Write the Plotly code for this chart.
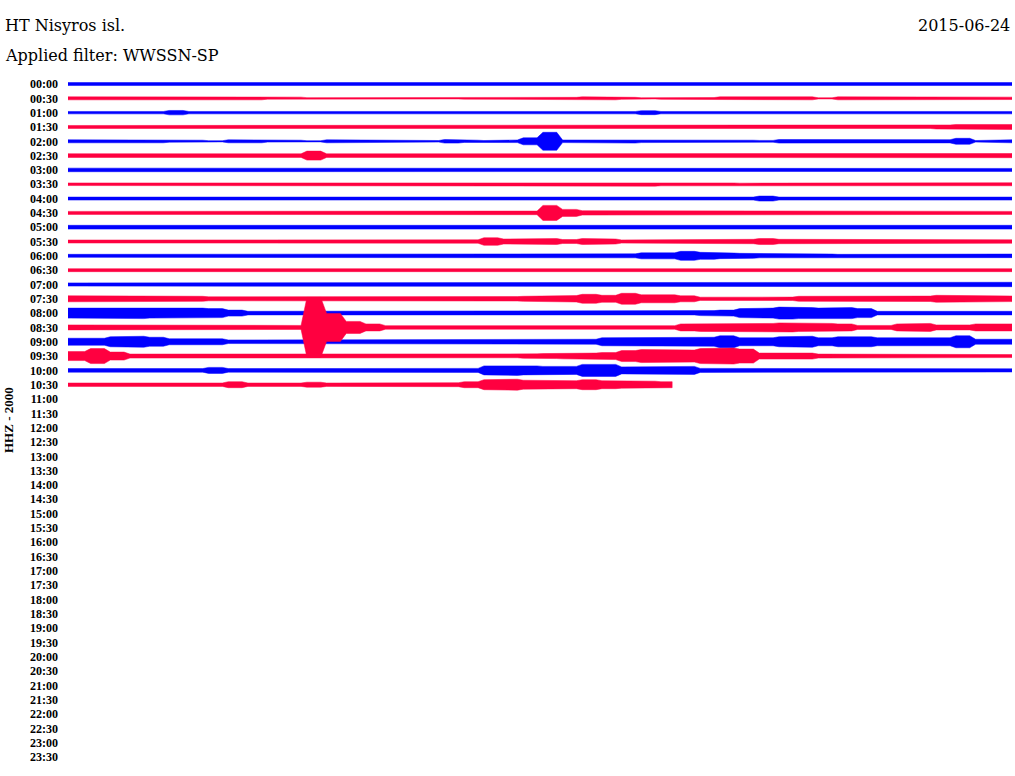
import plotly.graph_objects as go

# ---------------- text ----------------
STATION = "HT Nisyros isl."
FILTER_TEXT = "Applied filter: WWSSN-SP"
DATE_TEXT = "2015-06-24"
CHANNEL_TEXT = "HHZ - 2000"

# ---------------- row labels (30 minutes per row) ----------------
ROW_LABELS = [
    "00:00", "00:30", "01:00", "01:30", "02:00", "02:30", "03:00", "03:30",
    "04:00", "04:30", "05:00", "05:30", "06:00", "06:30", "07:00", "07:30",
    "08:00", "08:30", "09:00", "09:30", "10:00", "10:30", "11:00", "11:30",
    "12:00", "12:30", "13:00", "13:30", "14:00", "14:30", "15:00", "15:30",
    "16:00", "16:30", "17:00", "17:30", "18:00", "18:30", "19:00", "19:30",
    "20:00", "20:30", "21:00", "21:30", "22:00", "22:30", "23:00", "23:30",
]
ROW_MINUTES = 30.0
N_BINS = 48                 # envelope bins per 30-minute row
LAST_ROW_END_MIN = 19.2     # recording stops ~10:49
AMP_PER_ROW = 14.32         # envelope units per row spacing

# ---------------- amplitude envelopes (half peak-to-peak, read per bin) ----------------
ENV_0000 = [1.5, 1.5, 1.5, 1.5, 1.5, 1.5, 1.5, 1.5, 1.5, 1.5, 1.5, 1.5, 1.5, 1.5, 1.5, 1.5,
            1.5, 1.5, 1.5, 1.5, 1.5, 1.5, 1.5, 1.5, 1.5, 1.5, 1.5, 1.5, 1.5, 1.5, 1.5, 1.5,
            1.5, 1.5, 1.5, 1.5, 1.5, 1.5, 1.5, 1.5, 1.5, 1.5, 1.5, 1.5, 1.5, 1.5, 1.5, 1.5]
ENV_0030 = [1.5, 1.2, 1.2, 1.2, 1.2, 1.5, 1.2, 1.2, 1.5, 1.5, 0.8, 1.2, 0.7, 1.0, 0.8, 0.8,
            0.8, 1.0, 0.8, 0.6, 0.8, 1.0, 1.0, 1.2, 1.2, 1.0, 1.5, 1.5, 1.0, 0.6, 1.0, 0.8,
            0.8, 1.5, 0.8, 1.0, 0.8, 1.5, 0.6, 1.5, 0.8, 1.2, 1.5, 1.5, 1.5, 1.5, 1.2, 1.2]
ENV_0100 = [1.2, 1.8, 1.2, 1.5, 1.2, 2.2, 1.2, 1.5, 1.2, 1.2, 1.2, 1.2, 1.2, 1.2, 1.2, 1.2,
            1.2, 1.2, 1.2, 1.2, 1.2, 1.2, 1.2, 1.2, 1.2, 1.2, 1.2, 1.2, 1.2, 2.0, 1.2, 1.2,
            1.2, 1.2, 1.2, 1.8, 1.2, 1.2, 1.2, 1.2, 1.2, 1.2, 1.2, 1.2, 1.2, 1.2, 1.2, 1.2]
ENV_0130 = [1.5, 1.5, 1.5, 1.5, 1.5, 1.5, 1.5, 1.5, 1.5, 1.5, 1.5, 1.5, 1.5, 1.5, 1.5, 1.5,
            1.5, 1.5, 1.5, 1.5, 1.5, 1.5, 1.5, 1.5, 1.5, 1.5, 1.5, 1.8, 1.5, 1.8, 1.5, 1.5,
            1.5, 1.5, 1.5, 1.5, 1.5, 1.5, 1.5, 1.5, 1.5, 1.5, 1.5, 1.5, 2.0, 2.5, 2.0, 2.5]
ENV_0200 = [1.5, 1.1, 1.3, 1.5, 1.5, 0.9, 1.1, 0.6, 1.5, 1.5, 0.8, 1.1, 0.6, 1.5, 1.5, 1.5,
            1.3, 1.3, 0.8, 1.8, 1.1, 0.8, 1.3, 3.5, 9.0, 1.3, 1.3, 1.1, 1.8, 1.3, 1.1, 1.1,
            1.5, 1.5, 1.1, 0.9, 1.8, 1.1, 1.5, 1.6, 1.1, 1.1, 1.6, 1.8, 1.6, 3.0, 0.8, 1.5]
ENV_0230 = [1.9, 1.8, 1.8, 1.9, 2.1, 1.8, 1.8, 1.8, 1.8, 1.9, 1.9, 1.8, 4.5, 1.8, 1.7, 2.1,
            1.5, 1.5, 1.5, 1.5, 1.5, 1.5, 1.5, 1.5, 1.8, 1.5, 1.5, 1.5, 1.5, 1.5, 1.5, 1.5,
            1.5, 1.5, 1.5, 1.5, 1.5, 1.5, 1.5, 1.5, 1.5, 1.5, 1.5, 1.5, 1.5, 1.5, 1.5, 2.1]
ENV_0300 = [1.8, 1.8, 1.5, 1.5, 1.5, 1.5, 1.5, 1.5, 1.5, 1.8, 1.5, 1.5, 1.5, 1.5, 1.8, 1.5,
            1.5, 1.5, 1.5, 1.5, 1.5, 1.8, 1.5, 1.5, 1.5, 1.8, 1.5, 1.5, 1.5, 1.5, 1.5, 1.5,
            1.5, 1.5, 1.5, 1.5, 1.5, 1.5, 1.5, 1.5, 1.5, 1.5, 1.5, 1.5, 1.8, 1.5, 1.5, 1.5]
ENV_0330 = [1.3, 1.2, 1.3, 1.2, 1.3, 1.2, 1.3, 1.2, 1.3, 1.2, 1.3, 1.2, 1.3, 1.3, 1.2, 1.2,
            1.2, 1.2, 1.2, 1.2, 1.2, 1.2, 1.5, 1.5, 1.5, 1.5, 1.6, 1.6, 1.6, 1.9, 1.6, 1.6,
            1.3, 1.3, 1.1, 1.1, 1.1, 1.1, 1.1, 1.1, 1.5, 1.6, 1.6, 1.6, 1.6, 1.6, 1.3, 1.5]
ENV_0400 = [1.5, 1.5, 1.8, 1.8, 1.5, 1.5, 1.5, 1.5, 1.5, 1.5, 1.5, 1.5, 1.5, 1.5, 1.8, 1.5,
            1.5, 1.8, 1.5, 2.2, 1.8, 1.5, 1.5, 1.5, 1.5, 1.5, 1.5, 1.5, 1.5, 1.5, 1.5, 1.5,
            1.5, 1.5, 1.5, 2.5, 1.5, 1.5, 1.5, 1.8, 1.5, 1.5, 1.5, 1.5, 1.5, 1.5, 1.5, 1.5]
ENV_0430 = [1.5, 1.8, 1.8, 1.5, 1.5, 1.5, 1.8, 2.2, 1.5, 1.5, 1.5, 1.5, 1.5, 1.5, 1.5, 1.5,
            1.5, 1.5, 1.5, 1.5, 1.5, 1.5, 1.8, 1.8, 7.5, 3.5, 2.2, 1.5, 1.5, 1.8, 1.8, 1.5,
            1.5, 2.0, 1.5, 1.5, 1.5, 1.5, 1.5, 1.5, 1.5, 1.5, 1.5, 1.5, 1.5, 1.5, 1.5, 1.5]
ENV_0500 = [1.9, 1.8, 1.9, 1.8, 1.9, 1.8, 1.8, 1.9, 1.8, 1.8, 1.9, 1.8, 1.8, 1.9, 1.8, 1.8,
            1.9, 1.8, 1.9, 1.8, 1.8, 1.9, 1.8, 1.8, 2.2, 1.8, 1.8, 1.9, 1.8, 1.8, 1.9, 1.8,
            1.8, 1.8, 1.9, 1.8, 1.8, 1.8, 1.8, 1.9, 1.8, 1.8, 2.0, 2.2, 1.9, 1.8, 2.2, 1.9]
ENV_0530 = [1.5, 2.0, 1.5, 1.8, 1.5, 1.5, 1.5, 2.0, 1.8, 1.8, 1.8, 1.5, 1.8, 1.8, 2.2, 1.7,
            1.7, 1.7, 1.7, 1.7, 1.7, 3.8, 2.5, 2.5, 3.0, 2.0, 3.0, 2.5, 1.6, 1.6, 1.6, 1.6,
            1.6, 1.6, 2.2, 3.0, 2.2, 1.5, 1.5, 1.5, 1.5, 1.5, 1.5, 1.5, 1.7, 1.5, 1.5, 1.7]
ENV_0600 = [1.5, 1.5, 1.5, 1.5, 1.5, 1.5, 1.5, 1.5, 1.5, 1.5, 1.5, 1.5, 1.5, 1.5, 1.5, 1.5,
            1.5, 1.5, 1.5, 1.5, 1.5, 1.5, 1.5, 1.8, 1.5, 1.5, 1.8, 1.5, 2.0, 3.0, 3.0, 4.5,
            3.5, 2.8, 2.5, 2.0, 2.0, 1.8, 1.8, 1.5, 1.8, 1.5, 1.5, 1.5, 1.5, 1.5, 1.5, 1.8]
ENV_0630 = [1.5, 1.5, 1.8, 1.5, 1.5, 1.5, 1.5, 1.5, 1.5, 1.5, 1.8, 1.8, 1.8, 1.8, 2.2, 1.5,
            1.5, 1.5, 1.8, 1.8, 1.8, 1.5, 1.5, 1.5, 1.5, 1.5, 1.5, 1.5, 1.5, 1.7, 1.5, 1.5,
            1.5, 1.8, 1.5, 1.5, 2.2, 1.5, 1.5, 1.7, 1.5, 1.5, 1.8, 1.8, 1.5, 2.2, 1.5, 1.5]
ENV_0700 = [1.6, 1.6, 1.7, 1.6, 1.6, 1.7, 1.6, 1.6, 1.7, 1.6, 1.6, 1.7, 1.6, 1.6, 1.7, 1.6,
            1.6, 1.6, 1.7, 1.6, 1.6, 1.7, 1.6, 1.6, 1.6, 1.7, 1.6, 1.6, 1.6, 1.7, 1.6, 1.6,
            1.6, 1.7, 1.6, 1.6, 1.7, 1.6, 1.6, 1.6, 1.7, 1.6, 1.6, 1.7, 1.6, 1.6, 1.8, 2.2]
ENV_0730 = [3.0, 3.0, 2.5, 2.5, 2.5, 2.5, 2.5, 2.0, 1.5, 1.8, 1.5, 1.5, 1.5, 1.5, 1.5, 1.8,
            1.6, 1.6, 1.6, 1.6, 1.6, 2.2, 2.2, 2.5, 3.2, 3.2, 4.5, 3.5, 5.5, 4.0, 4.0, 3.0,
            1.6, 1.6, 1.7, 1.6, 1.7, 2.5, 2.5, 2.5, 2.7, 3.0, 2.7, 2.7, 3.5, 3.5, 3.5, 2.8]
ENV_0800 = [5.0, 5.5, 5.0, 5.5, 5.0, 5.0, 5.0, 4.5, 3.0, 1.8, 1.8, 1.8, 1.8, 1.8, 1.8, 2.2,
            2.5, 2.5, 1.8, 1.8, 1.8, 1.8, 1.8, 1.8, 1.8, 1.8, 1.8, 1.8, 1.8, 1.8, 2.5, 1.8,
            2.5, 3.0, 4.5, 5.0, 6.0, 5.5, 5.0, 5.5, 4.5, 1.8, 1.8, 1.8, 1.8, 1.8, 1.8, 1.8]
ENV_0830 = [2.5, 2.5, 2.5, 2.5, 2.5, 2.5, 2.5, 2.5, 2.0, 2.0, 2.0, 2.0, 30.0, 14.0, 6.0, 3.5,
            1.8, 1.8, 1.8, 1.8, 1.8, 1.8, 1.8, 1.8, 1.8, 1.8, 1.8, 1.8, 1.8, 1.8, 1.8, 3.5,
            4.0, 4.0, 4.0, 4.0, 4.5, 4.0, 4.0, 3.5, 2.0, 2.0, 3.5, 4.0, 2.5, 2.5, 3.5, 3.5]
ENV_0900 = [3.5, 3.5, 5.0, 5.5, 4.5, 3.0, 3.0, 3.0, 1.8, 1.8, 1.8, 1.8, 1.8, 1.8, 1.8, 1.8,
            1.8, 1.8, 2.2, 2.2, 2.2, 2.3, 2.3, 2.3, 2.5, 2.5, 2.5, 4.0, 4.0, 4.0, 4.0, 4.0,
            4.5, 6.0, 4.0, 4.0, 5.0, 5.5, 4.0, 5.0, 5.0, 4.0, 3.5, 4.0, 4.0, 6.0, 2.5, 2.5]
ENV_0930 = [4.5, 7.5, 4.0, 2.0, 1.5, 1.5, 1.5, 1.5, 2.0, 1.5, 1.5, 1.5, 1.5, 1.5, 1.5, 1.5,
            1.6, 1.6, 1.6, 1.6, 1.6, 1.7, 1.7, 2.2, 2.5, 2.8, 3.0, 3.5, 5.5, 6.5, 6.5, 6.0,
            7.5, 8.0, 7.0, 3.0, 3.0, 3.0, 2.0, 2.0, 2.0, 2.0, 2.0, 1.5, 1.5, 1.5, 1.5, 1.5]
ENV_1000 = [1.8, 1.8, 1.8, 1.8, 1.8, 1.8, 1.8, 3.0, 1.8, 2.3, 1.8, 1.8, 1.8, 1.8, 1.8, 1.8,
            1.8, 1.8, 1.8, 1.8, 2.0, 4.5, 5.0, 4.5, 4.0, 4.0, 6.0, 6.0, 3.5, 3.5, 3.5, 4.0,
            2.0, 2.0, 2.0, 2.0, 2.0, 2.0, 1.6, 1.6, 1.6, 1.6, 1.6, 1.6, 1.6, 1.6, 1.6, 1.6]
ENV_1030 = [1.7, 1.7, 1.7, 1.7, 1.7, 1.7, 1.7, 1.7, 3.0, 1.7, 1.7, 1.7, 2.5, 1.7, 1.7, 1.8,
            2.0, 2.0, 2.0, 2.0, 3.0, 5.0, 5.5, 4.5, 4.5, 4.0, 5.0, 4.0, 3.5, 3.5, 3.0]

ENVELOPES = [ENV_0000, ENV_0030, ENV_0100, ENV_0130, ENV_0200, ENV_0230, ENV_0300,
             ENV_0330, ENV_0400, ENV_0430, ENV_0500, ENV_0530, ENV_0600, ENV_0630,
             ENV_0700, ENV_0730, ENV_0800, ENV_0830, ENV_0900, ENV_0930, ENV_1000,
             ENV_1030]

BLUE = "#0000ff"
RED = "#ff0040"

fig = go.Figure()


def row_trace(i, env):
    """Closed envelope polygon for one helicorder row: each bin's level is held over
    the middle of the bin, with short linear transitions between neighbouring bins."""
    bin_w = ROW_MINUTES / N_BINS
    end = LAST_ROW_END_MIN if i == len(ENVELOPES) - 1 else ROW_MINUTES
    xs, amps = [], []
    for k, a in enumerate(env):
        x0 = k * bin_w
        xa = x0 + 0.15 * bin_w if k > 0 else x0
        xb = min(x0 + 0.85 * bin_w if k < len(env) - 1 else (k + 1) * bin_w, end)
        xs += [min(xa, end), xb]
        amps += [a, a]
    top_y = [i - a / AMP_PER_ROW for a in amps]
    bot_y = [i + a / AMP_PER_ROW for a in amps]
    color = BLUE if i % 2 == 0 else RED
    return go.Scatter(
        x=xs + xs[::-1] + [xs[0]],
        y=top_y + bot_y[::-1] + [top_y[0]],
        mode="lines", fill="toself", fillcolor=color,
        line=dict(color=color, width=0.5),
        hoverinfo="skip", showlegend=False,
    )


# blue rows first, red rows drawn on top
for i, env in enumerate(ENVELOPES):
    if i % 2 == 0:
        fig.add_trace(row_trace(i, env))
for i, env in enumerate(ENVELOPES):
    if i % 2 == 1:
        fig.add_trace(row_trace(i, env))

W, H = 1015, 776
L, R, T, B = 68, 3, 74, 9
plot_h = H - T - B
plot_w = W - L - R


def px_to_paper_y(py):
    return (H - B - py) / plot_h


def px_to_paper_x(px):
    return (px - L) / plot_w


fig.update_layout(
    width=W, height=H,
    margin=dict(l=L, r=R, t=T, b=B, autoexpand=False),
    paper_bgcolor="white", plot_bgcolor="white",
    xaxis=dict(range=[0, ROW_MINUTES], visible=False, fixedrange=True),
    yaxis=dict(
        range=[len(ROW_LABELS) - 1 + 0.7, -0.7],
        tickmode="array",
        tickvals=list(range(len(ROW_LABELS))),
        ticktext=ROW_LABELS,
        showgrid=False, zeroline=False, showline=False,
        ticks="", ticklabelstandoff=9,
        tickfont=dict(family="Liberation Serif", size=12, color="black", weight="bold"),
        fixedrange=True,
    ),
    annotations=[
        dict(text=STATION, xref="paper", yref="paper",
             x=px_to_paper_x(3), y=px_to_paper_y(26),
             xanchor="left", yanchor="middle", showarrow=False,
             font=dict(family="DejaVu Serif", size=16, color="black")),
        dict(text=FILTER_TEXT, xref="paper", yref="paper",
             x=px_to_paper_x(3), y=px_to_paper_y(56),
             xanchor="left", yanchor="middle", showarrow=False,
             font=dict(family="DejaVu Serif", size=16, color="black")),
        dict(text=DATE_TEXT, xref="paper", yref="paper",
             x=px_to_paper_x(1012), y=px_to_paper_y(26),
             xanchor="right", yanchor="middle", showarrow=False,
             font=dict(family="DejaVu Serif", size=16, color="black")),
        dict(text=CHANNEL_TEXT, xref="paper", yref="paper",
             x=px_to_paper_x(8), y=px_to_paper_y(420),
             xanchor="center", yanchor="middle", textangle=-90, showarrow=False,
             font=dict(family="Liberation Serif", size=13, color="black", weight="bold")),
    ],
)

fig.write_html(
    "out.html",
    config={"displayModeBar": False},
    post_script="document.body.style.margin='0px';document.body.style.overflow='hidden';",
)
